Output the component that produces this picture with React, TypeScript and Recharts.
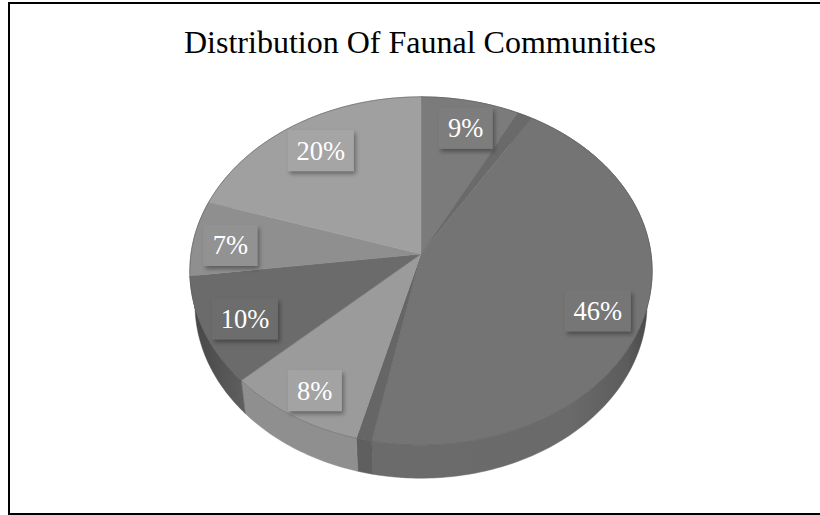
import { PieChart, Pie, Cell } from "recharts";

const sliceNames = ["A", "gapA", "B", "gapB", "C", "D", "E", "F"];
const sliceValues = [7.6, 1.1, 44.4, 1.0, 8.9, 10, 7, 20];
const sliceLabels = ["9%", "", "46%", "", "8%", "10%", "7%", "20%"];

const TOP_COLORS = ["#7b7b7b", "#6a6a6a", "#747474", "#666666", "#9b9b9b", "#6b6b6b", "#8f8f8f", "#a0a0a0"];
const WALL_COLORS = ["#666666", "#585858", "url(#wallB)", "#5f5f5f", "#8f8f8f", "url(#wallD)", "#777777", "#888888"];
const BOX_COLORS = ["#7d7d7d", "#6a6a6a", "#767676", "#666666", "#a3a3a3", "#6d6d6d", "#929292", "#a5a5a5"];
const LABEL_RADII = [0.9, 0, 0.8, 0, 0.85, 0.82, 0.84, 0.8];
const LABEL_NUDGE = [[0, 12], [0, 0], [-1, 5], [0, 0], [3, -1], [2, 2], [0, 5], [0, 0]];

const chartData = sliceNames.map((name, i) => ({ name, value: sliceValues[i] }));

// tilt + perspective: the circle is projected so the apex sits above the ellipse centre
const TILT = 0.75;
const PERSPECTIVE = 0.0978;
const DEPTH = 33;
const BOTTOM_SHRINK = 0.978;
const RAD = Math.PI / 180;

function project(angle: number, cx: number, cy: number, r: number) {
  const s = Math.cos(angle * RAD);
  const c = Math.sin(angle * RAD);
  const w = 1 + PERSPECTIVE * c;
  return { x: cx + (r * s) / w, y: cy - (r * TILT * c) / w };
}

function arcPoints(props: any) {
  const { cx, cy, outerRadius, startAngle, endAngle } = props;
  const steps = Math.max(2, Math.ceil(Math.abs(endAngle - startAngle)));
  const pts = [];
  for (let i = 0; i <= steps; i++) {
    pts.push(project(startAngle + ((endAngle - startAngle) * i) / steps, cx, cy, outerRadius));
  }
  return pts;
}

function TopSlice(props: any) {
  const pts = arcPoints(props);
  const arc = pts.map((p, i) => `${i ? "L" : "M"}${p.x},${p.y}`).join(" ");
  const d = `M${props.cx},${props.cy} ` + pts.map((p) => `L${p.x},${p.y}`).join(" ") + " Z";
  return (
    <g>
      <path d={d} fill={props.fill} stroke={props.fill} strokeWidth={0.5} />
      <path d={arc} fill="none" stroke="#5a5a5a" strokeOpacity={0.45} strokeWidth={1} />
    </g>
  );
}

function WallSlice(props: any) {
  const pts = arcPoints(props);
  const back = [...pts]
    .reverse()
    .map((p) => `L${props.cx + (p.x - props.cx) * BOTTOM_SHRINK},${p.y + DEPTH}`)
    .join(" ");
  const d = `M${pts[0].x},${pts[0].y} ` + pts.map((p) => `L${p.x},${p.y}`).join(" ") + " " + back + " Z";
  return <path d={d} fill={props.fill} stroke={props.fill} strokeWidth={0.5} />;
}

function BoxLabel(props: any) {
  const { cx, cy, outerRadius, midAngle, index } = props;
  const text = sliceLabels[index];
  if (!text) return null;
  const p = project(midAngle, cx, cy, outerRadius * LABEL_RADII[index]);
  const x = p.x + LABEL_NUDGE[index][0];
  const y = p.y + LABEL_NUDGE[index][1];
  const w = text.length > 2 ? 66 : 54;
  const h = 41;
  return (
    <g>
      <rect
        x={x - w / 2}
        y={y - h / 2}
        width={w}
        height={h}
        fill={BOX_COLORS[index]}
        filter="url(#boxShadow)"
      />
      <text
        x={x}
        y={y + 9}
        textAnchor="middle"
        fill="#ffffff"
        fontFamily="Liberation Serif"
        fontSize={26.5}
      >
        {text}
      </text>
    </g>
  );
}

export default function App() {
  return (
    <div style={{ position: "absolute", left: 0, top: 0, width: 820, height: 515, background: "#fff", overflow: "hidden" }}>
      <div
        style={{
          position: "absolute",
          left: 8,
          top: 2,
          width: 830,
          height: 509,
          border: "2px solid #000",
        }}
      />
      <div
        style={{
          position: "absolute",
          left: 0,
          top: 24,
          width: 840,
          textAlign: "center",
          fontFamily: "Liberation Serif",
          fontSize: 32,
          lineHeight: "36px",
          color: "#000",
        }}
      >
        Distribution Of Faunal Communities
      </div>
      <div style={{ position: "absolute", left: 0, top: 0 }}>
        <PieChart width={820} height={515} margin={{ top: 0, right: 0, bottom: 0, left: 0 }}>
          <defs>
            <filter id="boxShadow" x="-20%" y="-20%" width="150%" height="150%">
              <feDropShadow dx="2" dy="3" stdDeviation="2" floodColor="#000" floodOpacity="0.35" />
            </filter>
            <linearGradient id="wallB" gradientUnits="userSpaceOnUse" x1="420" y1="0" x2="650" y2="0">
              <stop offset="0" stopColor="#6b6b6b" />
              <stop offset="0.65" stopColor="#6a6a6a" />
              <stop offset="0.9" stopColor="#5c5c5c" />
              <stop offset="1" stopColor="#474747" />
            </linearGradient>
            <linearGradient id="wallD" gradientUnits="userSpaceOnUse" x1="190" y1="0" x2="250" y2="0">
              <stop offset="0" stopColor="#454545" />
              <stop offset="1" stopColor="#626262" />
            </linearGradient>
          </defs>
          <Pie
            data={chartData}
            dataKey="value"
            nameKey="name"
            cx={421}
            cy={254}
            innerRadius={0}
            outerRadius={230}
            startAngle={90}
            endAngle={-270}
            stroke="none"
            shape={WallSlice}
            isAnimationActive={false}
          >
            {chartData.map((d, i) => (
              <Cell key={d.name} fill={WALL_COLORS[i]} />
            ))}
          </Pie>
          <Pie
            data={chartData}
            dataKey="value"
            nameKey="name"
            cx={421}
            cy={254}
            innerRadius={0}
            outerRadius={230}
            startAngle={90}
            endAngle={-270}
            stroke="none"
            shape={TopSlice}
            label={BoxLabel}
            labelLine={false}
            isAnimationActive={false}
          >
            {chartData.map((d, i) => (
              <Cell key={d.name} fill={TOP_COLORS[i]} />
            ))}
          </Pie>
        </PieChart>
      </div>
    </div>
  );
}
